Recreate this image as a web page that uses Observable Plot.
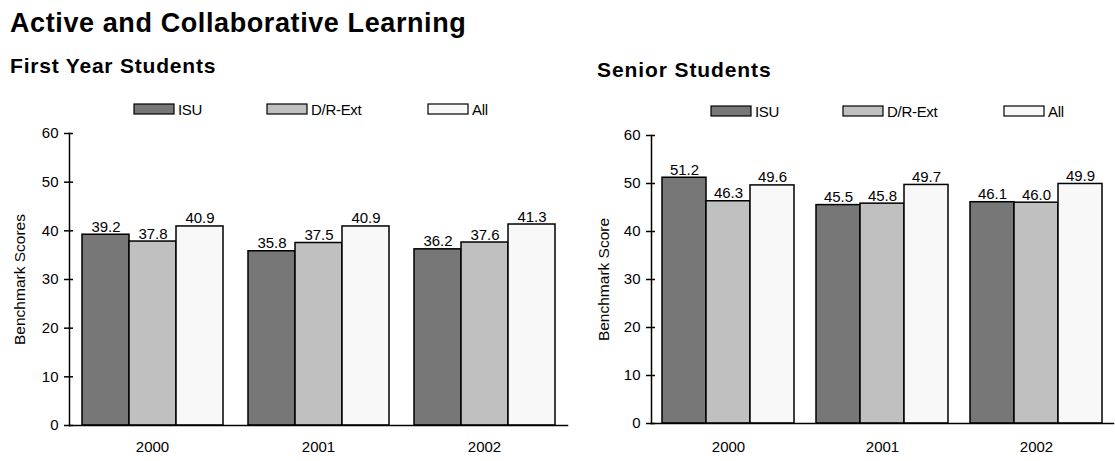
<!DOCTYPE html>
<html>
<head>
<meta charset="utf-8">
<script src="https://cdn.jsdelivr.net/npm/d3@7"></script>
<script src="https://cdn.jsdelivr.net/npm/@observablehq/plot@0.6"></script>
<style>
  html, body { margin: 0; padding: 0; background: #fff; }
  #page { position: relative; width: 1115px; height: 461px; overflow: hidden;
          font-family: "Liberation Sans", Arial, sans-serif; }
  #page > * { position: absolute; }
</style>
</head>
<body>
<div id="page"></div>
<script>
// Benchmark: Active and Collaborative Learning, by survey year
const years = ["2000", "2001", "2002"];
const series = ["ISU", "D/R-Ext", "All"];
const seriesColors = ["#777777", "#c0c0c0", "#f8f8f8"];
const yTicks = [0, 10, 20, 30, 40, 50, 60];

const firstYearISU = [39.2, 35.8, 36.2];
const firstYearDR = [37.8, 37.5, 37.6];
const firstYearAll = [40.9, 40.9, 41.3];

const seniorISU = [51.2, 45.5, 46.1];
const seniorDR = [46.3, 45.8, 46.0];
const seniorAll = [49.6, 49.7, 49.9];

function toRows(isu, dr, all) {
  const cols = [isu, dr, all];
  return years.flatMap((year, i) =>
    series.map((s, j) => ({year, series: s, value: cols[j][i]})));
}

const FONT = "'Liberation Sans', Arial, sans-serif";

// One grouped bar chart: a facet per year, a band per series inside it.
// Year facets touch; the gaps come from the series scale's outer padding.
function groupedBars(rows, o) {
  return Plot.plot({
    width: o.width,
    height: 361,
    marginLeft: o.marginLeft,
    marginRight: o.marginRight,
    marginTop: o.marginTop,
    marginBottom: o.marginBottom,
    style: {fontFamily: FONT, fontSize: "15px", color: "#000", background: "transparent", overflow: "visible"},
    fx: {domain: years, padding: 0, label: null, axis: null},
    x: {domain: series, paddingInner: 0, paddingOuter: o.groupPadding, axis: null},
    y: {domain: [0, 60], axis: null},
    color: {domain: series, range: seriesColors},
    marks: [
      Plot.barY(rows, {fx: "year", x: "series", y: "value", fill: "series", stroke: "#000", strokeWidth: 1.5}),
      Plot.text(rows, {fx: "year", x: "series", y: "value", text: d => d.value.toFixed(1),
                       lineAnchor: "bottom", dy: -3, fontSize: 15, fill: "#000"}),
      Plot.axisFx({anchor: "bottom", tickSize: 0, tickPadding: o.yearPadding, label: null, fontSize: 15}),
      Plot.axisY({ticks: yTicks, tickSize: 5, tickPadding: 6, strokeWidth: 1.5, label: null, fontSize: 15}),
      Plot.axisY({ticks: yTicks, tickSize: -4, tickFormat: () => "", label: null, strokeWidth: 1.5}),
      Plot.text([o.yLabel], {facet: "super", frameAnchor: "left", rotate: -90, dx: -o.labelOffset,
                             lineAnchor: "top", textAnchor: "middle", fontSize: 15.5, fill: "#000"}),
      Plot.frame({facet: "super", anchor: "left", strokeWidth: 1.5}),
      Plot.frame({facet: "super", anchor: "bottom", strokeWidth: 1.5})
    ]
  });
}

const page = document.getElementById("page");

const left = groupedBars(toRows(firstYearISU, firstYearDR, firstYearAll), {
  width: 580, marginLeft: 68, marginRight: 12, marginTop: 33, marginBottom: 36,
  groupPadding: 0.25, yearPadding: 16,
  yLabel: "Benchmark Scores", labelOffset: 56
});
left.style.left = "0px"; left.style.top = "100px";
page.appendChild(left);

const right = groupedBars(toRows(seniorISU, seniorDR, seniorAll), {
  width: 535, marginLeft: 71, marginRight: 2, marginTop: 35, marginBottom: 38,
  groupPadding: 0.237, yearPadding: 18,
  yLabel: "Benchmark Score", labelOffset: 54
});
right.style.left = "580px"; right.style.top = "100px";
page.appendChild(right);

// Titles and legends
const svg = d3.create("svg").attr("width", 1115).attr("height", 130)
  .style("left", "0px").style("top", "0px")
  .attr("font-family", FONT);

svg.append("text").attr("x", 10).attr("y", 32)
  .attr("font-size", 27).attr("font-weight", "bold").attr("letter-spacing", 0.6)
  .text("Active and Collaborative Learning");
svg.append("text").attr("x", 10).attr("y", 73)
  .attr("font-size", 21).attr("font-weight", "bold").attr("letter-spacing", 0.8)
  .text("First Year Students");
svg.append("text").attr("x", 597).attr("y", 77)
  .attr("font-size", 21).attr("font-weight", "bold").attr("letter-spacing", 0.9)
  .text("Senior Students");

function legend(xs, top) {
  series.forEach((s, i) => {
    svg.append("rect").attr("x", xs[i]).attr("y", top).attr("width", 40).attr("height", 10)
      .attr("fill", seriesColors[i]).attr("stroke", "#000").attr("stroke-width", 1.2);
    svg.append("text").attr("x", xs[i] + 44).attr("y", top + 10.5)
      .attr("font-size", 15).attr("letter-spacing", -0.3).text(s);
  });
}
legend([134, 267, 428], 104);
legend([711, 843, 1004], 106);

page.appendChild(svg.node());
</script>
</body>
</html>
